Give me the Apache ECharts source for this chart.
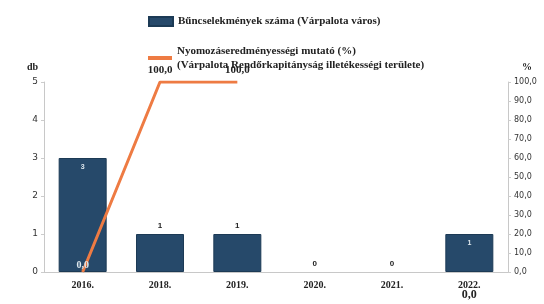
<!DOCTYPE html>
<html><head><meta charset="utf-8">
<script src="https://cdn.jsdelivr.net/npm/echarts@6/dist/echarts.min.js"></script>
<style>html,body{margin:0;padding:0;background:#fff}#c{width:544px;height:304px}</style>
</head><body><div id="c"></div>
<script>
const categories = ['2016.', '2018.', '2019.', '2020.', '2021.', '2022.'];
const crimeCounts = [3, 1, 1, 0, 0, 1];
const clearanceRate = [0, 100, 100, null, null, 0];
const leftTicks = [0, 1, 2, 3, 4, 5];
const rightTicks = [0, 10, 20, 30, 40, 50, 60, 70, 80, 90, 100];
const barName = 'Bűncselekmények száma (Várpalota város)';
const lineName = 'Nyomozáseredményességi mutató (%)\n(Várpalota Rendőrkapitányság illetékességi területe)';

const serif = 'Liberation Serif';
const fmt = v => v.toFixed(1).replace('.', ',');

const barData = crimeCounts.map((v, i) => {
  const inside = (i === 0 || i === categories.length - 1);
  return {
    value: v,
    itemStyle: v === 0 ? { borderWidth: 0, color: 'rgba(0,0,0,0)' } : undefined,
    label: inside
      ? { show: true, position: 'insideTop', distance: 6, color: '#dfe8ee', fontSize: 7, fontWeight: 'bold' }
      : { show: true, position: 'top', distance: 4, color: '#222', fontSize: 8, fontWeight: 'bold' }
  };
});

const lineData = clearanceRate.map((v, i) => {
  if (v === null) return '-';
  let label;
  if (i === 0) label = { show: true, position: 'top', distance: 2, color: '#dfe8ee', fontSize: 10, fontFamily: serif, fontWeight: 'bold', formatter: p => fmt(p.value) };
  else if (i === categories.length - 1) label = { show: true, position: 'bottom', distance: 17, color: '#222', fontSize: 12, fontFamily: serif, fontWeight: 'bold', formatter: p => fmt(p.value) };
  else label = { show: true, position: 'top', distance: 6, color: '#222', fontSize: 11, fontFamily: serif, fontWeight: 'bold', formatter: p => fmt(p.value) };
  return { value: v, label };
});

const chart = echarts.init(document.getElementById('c'), null, { renderer: 'canvas' });
chart.setOption({
  animation: false,
  backgroundColor: '#fff',
  grid: { left: 44, right: 36, top: 82, bottom: 32, containLabel: false },
  legend: [
    { data: [barName], left: 143, top: 11, orient: 'vertical', icon: 'rect', itemWidth: 24, itemHeight: 9, itemGap: 4,
      textStyle: { fontFamily: serif, fontSize: 11, fontWeight: 'bold', color: '#222' } },
    { data: [lineName], left: 143, top: 32, orient: 'vertical', icon: 'rect', itemWidth: 24, itemHeight: 4, itemGap: 4,
      textStyle: { fontFamily: serif, fontSize: 11, fontWeight: 'bold', color: '#222', lineHeight: 14, padding: [14, 0, 0, 0] } }
  ],
  xAxis: {
    type: 'category', data: categories,
    axisLine: { show: true, lineStyle: { color: '#c8c8c8', width: 1 } },
    axisTick: { show: false },
    axisLabel: { fontFamily: serif, fontSize: 10, fontWeight: 'bold', color: '#222', margin: 8 }
  },
  yAxis: [
    { type: 'value', min: 0, max: 5, interval: 1, name: 'db', nameLocation: 'end', nameGap: 10,
      nameTextStyle: { fontFamily: serif, fontSize: 10, fontWeight: 'bold', color: '#222', align: 'right', padding: [0, 6, 0, 0] },
      axisLine: { show: true, lineStyle: { color: '#c8c8c8' } }, axisTick: { show: true, length: 3, lineStyle: { color: '#ccc' } },
      splitLine: { show: false },
      axisLabel: { fontFamily: 'DejaVu Sans', fontSize: 9, color: '#333', margin: 6, formatter: v => leftTicks.includes(v) ? String(v) : '' } },
    { type: 'value', min: 0, max: 100, interval: 10, name: '%', nameLocation: 'end', nameGap: 10,
      nameTextStyle: { fontFamily: serif, fontSize: 10, fontWeight: 'bold', color: '#222', align: 'left', padding: [0, 0, 0, 14] },
      axisLine: { show: true, lineStyle: { color: '#c8c8c8' } }, axisTick: { show: true, length: 3, lineStyle: { color: '#ccc' } },
      splitLine: { show: false },
      axisLabel: { fontFamily: 'DejaVu Sans', fontSize: 8, color: '#333', margin: 6, formatter: v => rightTicks.includes(v) ? fmt(v) : '' } }
  ],
  series: [
    { name: barName, type: 'bar', yAxisIndex: 0, data: barData, barWidth: 48,
      itemStyle: { color: '#26496a', borderColor: '#1c3a55', borderWidth: 1 } },
    { name: lineName, type: 'line', yAxisIndex: 1, data: lineData, z: 5,
      symbol: 'circle', symbolSize: 0, showSymbol: true, connectNulls: false,
      itemStyle: { color: '#ee7b43' }, lineStyle: { color: '#ee7b43', width: 3 } }
  ]
});
</script></body></html>
